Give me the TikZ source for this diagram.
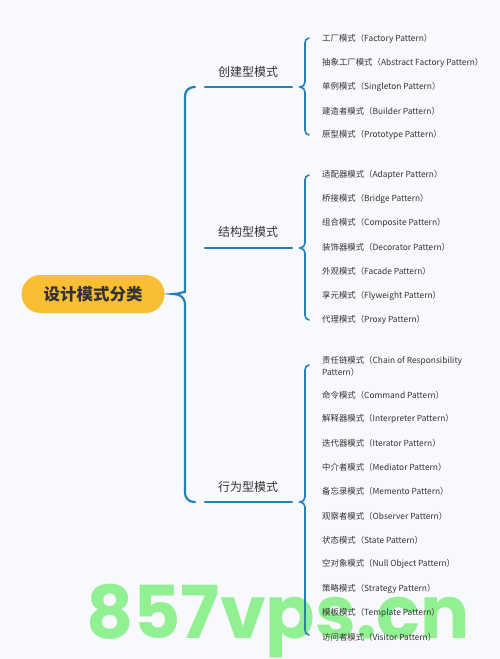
\documentclass[tikz,border=0pt]{standalone}
\usepackage{fontspec}
\setmainfont{Noto Sans CJK SC}
\newfontfamily\wmfont{Poppins}
\usetikzlibrary{%
  positioning,%
  calc%
}
\definecolor{linkblue}{RGB}{38,128,184}
\definecolor{rootyellow}{RGB}{249,190,52}
\definecolor{inkgray}{RGB}{51,51,51}
\definecolor{paper}{RGB}{248,249,252}
\definecolor{wmgreen}{RGB}{145,240,145}

\tikzset{
  item/.style={anchor=west,inner sep=0pt,font=\fontsize{8.4}{12}\selectfont,text=inkgray},
  group/.style={inner sep=0pt,font=\fontsize{12}{14}\selectfont,text=inkgray},
  brace/.style={draw=linkblue,line width=1.6pt,line cap=round},
  trunk/.style={draw=linkblue,line width=2.2pt,line cap=round}
}
% brace in front of a group of items: top, tip, bottom
\newcommand\grpbrace[3]{%
  \draw[brace] (309,#1) to[out=180,in=90] (305,#1+5) -- (305,#2-5)
    to[out=-90,in=0] (300,#2) to[out=0,in=90] (305,#2+5) -- (305,#3-5)
    to[out=-90,in=180] (309,#3);}

\begin{document}
\begin{tikzpicture}[x=1pt,y=-1pt]
\useasboundingbox[fill=paper] (0,0) rectangle (500,659);
\node[anchor=base west,inner sep=0pt,text=wmgreen,font=\wmfont\bfseries\fontsize{73}{74}\selectfont] (wm) at (86,638) {857vps.cn};

\node[fill=rootyellow,rounded corners=19pt,minimum width=143pt,minimum height=38pt,
  font=\bfseries\fontsize{16.5}{18}\selectfont,text=inkgray] (root) at (93,294) {设计模式分类};

\node[group] (cr) at (248,72) {创建型模式};
\node[group] (st) at (248,232) {结构型模式};
\node[group] (bh) at (248,487) {行为型模式};

\coordinate (cr-a) at (205,87);  \coordinate (cr-b) at (292,87);
\coordinate (st-a) at (205,248); \coordinate (st-b) at (292,248);
\coordinate (bh-a) at (205,502); \coordinate (bh-b) at (292,502);
\coordinate (tip) at (173,294);

% main bracket
\draw[trunk,rounded corners=9pt] (195,87) -| (185,200) -- (185,283)
  [sharp corners] .. controls (185,291) and (180,294) .. (tip)
  .. controls (180,294) and (185,297) .. (185,305)
  [rounded corners=9pt] |- (195,502);
\draw[trunk] (cr-a) -- (cr-b);
\draw[trunk] (st-a) -- (st-b);
\draw[trunk] (bh-a) -- (bh-b);

\grpbrace{38}{87}{135}
\grpbrace{175}{248}{320}
\grpbrace{365}{502}{635}

\foreach \t [count=\i from 0] in {工厂模式（Factory Pattern）,抽象工厂模式（Abstract Factory Pattern）,
  单例模式（Singleton Pattern）,建造者模式（Builder Pattern）,原型模式（Prototype Pattern）}
  \node[item] (cr\i) at (322,39+24*\i) {\t};

\foreach \t [count=\i from 0] in {适配器模式（Adapter Pattern）,桥接模式（Bridge Pattern）,
  组合模式（Composite Pattern）,装饰器模式（Decorator Pattern）,外观模式（Facade Pattern）,
  享元模式（Flyweight Pattern）,代理模式（Proxy Pattern）}
  \node[item] (st\i) at (322,175+24.17*\i) {\t};

\node[item,align=left] (bh0) at (322,366) {责任链模式（Chain of Responsibility\\Pattern）};
\foreach \t [count=\i] in {命令模式（Command Pattern）,解释器模式（Interpreter Pattern）,
  迭代器模式（Iterator Pattern）,中介者模式（Mediator Pattern）,备忘录模式（Memento Pattern）,
  观察者模式（Observer Pattern）,状态模式（State Pattern）,空对象模式（Null Object Pattern）,
  策略模式（Strategy Pattern）,模板模式（Template Pattern）,访问者模式（Visitor Pattern）}
  \node[item] (bh\i) at (322,395+24.2*\i-24.2) {\t};
\end{tikzpicture}
\end{document}
